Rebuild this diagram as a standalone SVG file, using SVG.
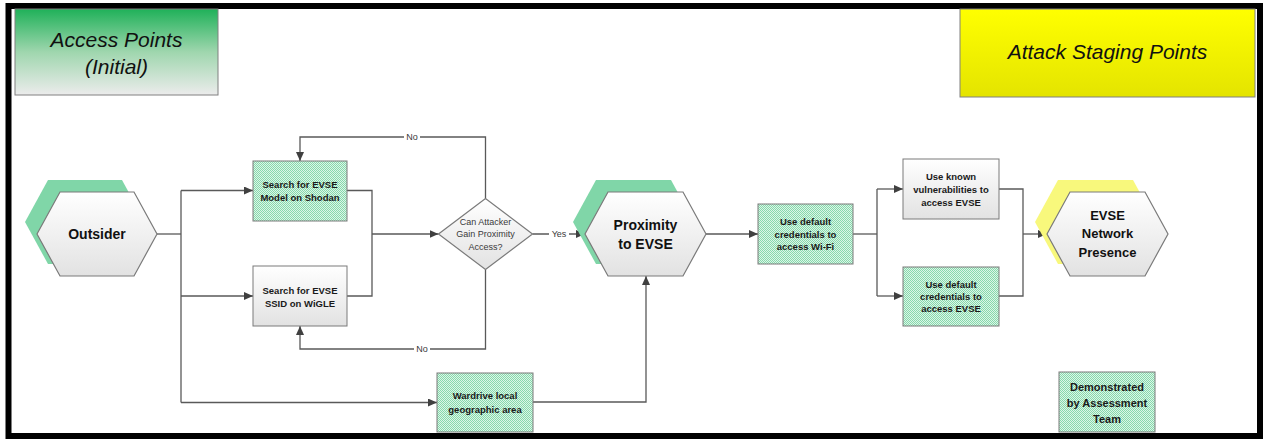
<svg xmlns="http://www.w3.org/2000/svg" width="1265" height="439" viewBox="0 0 1265 439">
  <defs>
    <linearGradient id="hdrGreen" x1="0" y1="0" x2="0" y2="1">
      <stop offset="0" stop-color="#1fb159"/>
      <stop offset="0.5" stop-color="#9fd6ae"/>
      <stop offset="1" stop-color="#ececec"/>
    </linearGradient>
    <linearGradient id="hdrYellow" x1="0" y1="0" x2="0" y2="1">
      <stop offset="0" stop-color="#ffff00"/>
      <stop offset="1" stop-color="#e4e400"/>
    </linearGradient>
    <linearGradient id="greyFill" x1="0" y1="0" x2="0" y2="1">
      <stop offset="0" stop-color="#ffffff"/>
      <stop offset="1" stop-color="#e2e2e2"/>
    </linearGradient>
    <pattern id="stipple" width="2" height="2" patternUnits="userSpaceOnUse">
      <rect width="2" height="2" fill="#dcf5e7"/>
      <rect width="1" height="1" fill="#86d9ac"/>
      <rect x="1" y="1" width="1" height="1" fill="#86d9ac"/>
    </pattern>
    <marker id="arrow" viewBox="0 0 9 8" refX="9" refY="4" markerWidth="9" markerHeight="8" markerUnits="userSpaceOnUse" orient="auto">
      <path d="M0,0 L9,4 L0,8 z" fill="#404040"/>
    </marker>
  </defs>
  <style>
    .hdr { font-family: "Liberation Sans", Arial, sans-serif; font-style: italic; font-size: 21px; fill: #111; text-anchor: middle; }
    .hex { stroke: #7a7a7a; stroke-width: 1.2; fill: url(#greyFill); }
    .hexTxt { font-family: "Liberation Sans", Arial, sans-serif; font-weight: bold; font-size: 14px; fill: #111; text-anchor: middle; }
    .box { stroke: #7a7a7a; stroke-width: 1; }
    .green { fill: url(#stipple); }
    .grey { fill: url(#greyFill); }
    .boxTxt { font-family: "Liberation Sans", Arial, sans-serif; font-weight: bold; font-size: 9.5px; fill: #1a1a1a; text-anchor: middle; }
    .qTxt { font-family: "Liberation Sans", Arial, sans-serif; font-size: 9px; fill: #3a3a3a; text-anchor: middle; }
    .lbl { font-family: "Liberation Sans", Arial, sans-serif; font-size: 9px; fill: #3a3a3a; text-anchor: middle; }
    .conn path { fill: none; stroke: #595959; stroke-width: 1.3; }
    .arr { marker-end: url(#arrow); }
  </style>

  <rect width="1265" height="439" fill="#ffffff"/>
  <!-- outer frame -->
  <rect x="8.5" y="6" width="1251.5" height="430" fill="none" stroke="#000000" stroke-width="6"/>

  <!-- title panels -->
  <g id="hdr-access">
    <rect x="15" y="9" width="203" height="86" fill="url(#hdrGreen)" stroke="#808080" stroke-width="1"/>
    <text class="hdr" x="116.5" y="47">Access Points</text>
    <text class="hdr" x="116.5" y="74">(Initial)</text>
  </g>
  <g id="hdr-staging">
    <rect x="960" y="9" width="295" height="88" fill="url(#hdrYellow)" stroke="#808080" stroke-width="1"/>
    <text class="hdr" x="1107.5" y="59">Attack Staging Points</text>
  </g>

  <!-- connectors -->
  <g id="connectors" class="conn">
    <path d="M157,234 H181"/>
    <path d="M181,190.5 V402.5"/>
    <path class="arr" d="M181,190.5 H253"/>
    <path class="arr" d="M181,296 H253"/>
    <path class="arr" d="M181,402.5 H437"/>
    <path d="M347,190.5 H372 V296 H347"/>
    <path class="arr" d="M372,234 H438.5"/>
    <path class="arr" d="M485.5,198.5 V137 H300 V161"/>
    <path class="arr" d="M485.5,269.5 V349 H300 V326"/>
    <path class="arr" d="M532.5,234 H585"/>
    <path class="arr" d="M706,234 H758"/>
    <path d="M853,234 H877"/>
    <path d="M877,189 V296"/>
    <path class="arr" d="M877,189 H903"/>
    <path class="arr" d="M877,296 H903"/>
    <path d="M999,189 H1023 V296 H999"/>
    <path class="arr" d="M1023,234 H1047"/>
    <path class="arr" d="M533,402 H646 V276"/>
  </g>

  <!-- connector labels -->
  <g id="labels">
    <rect x="404" y="131" width="16" height="12" fill="#ffffff"/>
    <text class="lbl" x="412" y="140.2">No</text>
    <rect x="414" y="343" width="16" height="12" fill="#ffffff"/>
    <text class="lbl" x="422" y="352.2">No</text>
    <rect x="549" y="228" width="20" height="12" fill="#ffffff"/>
    <text class="lbl" x="559" y="237.2">Yes</text>
  </g>

  <!-- nodes -->
  <g id="node-outsider">
    <polygon points="25,222 48,180 122,180 145,222 122,264 48,264" fill="#80d6a8"/>
    <polygon class="hex" points="37,234 60,192 134,192 157,234 134,276 60,276"/>
    <text class="hexTxt" x="97" y="239">Outsider</text>
  </g>

  <g id="node-shodan">
    <rect class="box green" x="253" y="161" width="94" height="60"/>
    <text class="boxTxt" x="300" y="187.5">Search for EVSE</text>
    <text class="boxTxt" x="300" y="200.5">Model on Shodan</text>
  </g>

  <g id="node-wigle">
    <rect class="box grey" x="253" y="266" width="94" height="60"/>
    <text class="boxTxt" x="300" y="293.5">Search for EVSE</text>
    <text class="boxTxt" x="300" y="306.5">SSID on WiGLE</text>
  </g>

  <g id="node-decision">
    <polygon class="hex" points="438.5,234 485.5,198.5 532.5,234 485.5,269.5"/>
    <text class="qTxt" x="485.5" y="224.8">Can Attacker</text>
    <text class="qTxt" x="485.5" y="237.4">Gain Proximity</text>
    <text class="qTxt" x="485.5" y="249.8">Access?</text>
  </g>

  <g id="node-proximity">
    <polygon points="573,222 596,180 671,180 694,222 671,264 596,264" fill="#80d6a8"/>
    <polygon class="hex" points="585,234 608,192 683,192 706,234 683,276 608,276"/>
    <text class="hexTxt" x="645.5" y="230">Proximity</text>
    <text class="hexTxt" x="645.5" y="249">to EVSE</text>
  </g>

  <g id="node-wifi">
    <rect class="box green" x="758" y="204" width="95" height="60"/>
    <text class="boxTxt" x="805.5" y="225">Use default</text>
    <text class="boxTxt" x="805.5" y="237.6">credentials to</text>
    <text class="boxTxt" x="805.5" y="250">access Wi-Fi</text>
  </g>

  <g id="node-known-vulns">
    <rect class="box grey" x="903" y="159" width="96" height="60"/>
    <text class="boxTxt" x="951" y="180">Use known</text>
    <text class="boxTxt" x="951" y="192.6">vulnerabilities to</text>
    <text class="boxTxt" x="951" y="205.6">access EVSE</text>
  </g>

  <g id="node-default-evse">
    <rect class="box green" x="903" y="267" width="96" height="59"/>
    <text class="boxTxt" x="951" y="288.3">Use default</text>
    <text class="boxTxt" x="951" y="300.3">credentials to</text>
    <text class="boxTxt" x="951" y="312.3">access EVSE</text>
  </g>

  <g id="node-network-presence">
    <polygon points="1035,222 1058,180 1133,180 1156,222 1133,264 1058,264" fill="#f8f87c"/>
    <polygon class="hex" points="1047,234 1070,192 1145,192 1168,234 1145,276 1070,276"/>
    <text class="hexTxt" x="1107.5" y="219.5" style="font-size:13px">EVSE</text>
    <text class="hexTxt" x="1107.5" y="238" style="font-size:13px">Network</text>
    <text class="hexTxt" x="1107.5" y="256.5" style="font-size:13px">Presence</text>
  </g>

  <g id="node-wardrive">
    <rect class="box green" x="437" y="373" width="96" height="59"/>
    <text class="boxTxt" x="485" y="399.3">Wardrive local</text>
    <text class="boxTxt" x="485" y="412.6">geographic area</text>
  </g>

  <g id="legend">
    <rect class="box green" x="1059" y="372" width="96" height="60"/>
    <text class="boxTxt" x="1107" y="391" style="font-size:11px">Demonstrated</text>
    <text class="boxTxt" x="1107" y="407" style="font-size:11px">by Assessment</text>
    <text class="boxTxt" x="1107" y="422.5" style="font-size:11px">Team</text>
  </g>
</svg>
